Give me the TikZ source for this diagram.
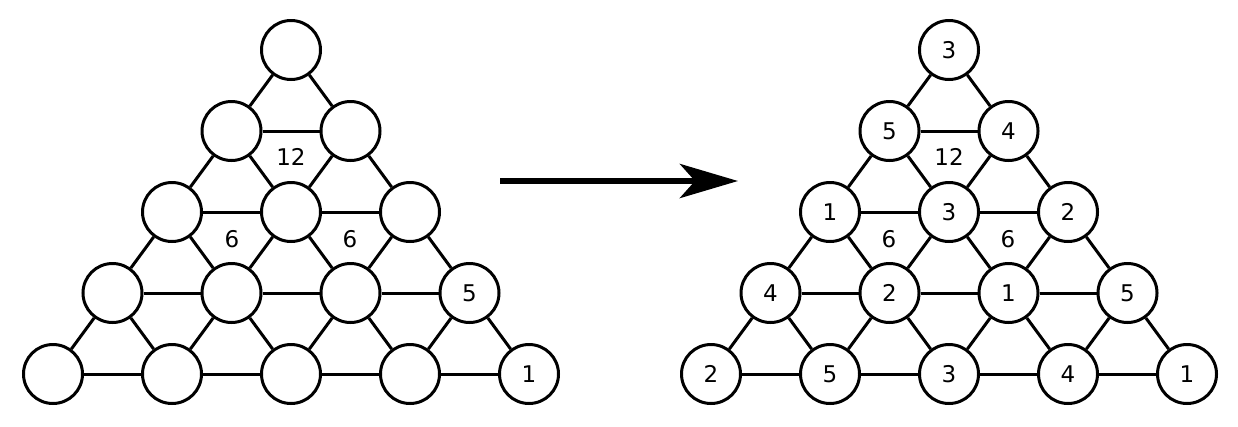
\documentclass[tikz,border=0pt]{standalone}
\usepackage{fontspec}
\setmainfont{DejaVu Sans}
\usetikzlibrary{arrows.meta}
\tikzset{
  ball/.style={circle,draw,line width=3pt,minimum size=59pt,inner sep=0pt,
    font=\fontsize{23}{23}\selectfont},
  link/.style={line width=3pt},
  sumlabel/.style={inner sep=0pt,font=\fontsize{23}{23}\selectfont},
}
\begin{document}
\begin{tikzpicture}[x=1pt,y=1pt]
\useasboundingbox (0,0) rectangle (1238,-426);
% left triangle, empty circles
\foreach \r in {0,...,4}
  \foreach \k in {0,...,\r}
    \node[ball] (L-\r-\k) at ({291+(2*\k-\r)*59.5},{-50-81*\r}) {};
\node[sumlabel] (L-five) at (L-3-3) {5};
\node[sumlabel] (L-one) at (L-4-4) {1};
% right triangle, filled in
\foreach \r/\vals in {0/{3},1/{5,4},2/{1,3,2},3/{4,2,1,5},4/{2,5,3,4,1}}
  \foreach \v [count=\k from 0] in \vals
    \node[ball] (R-\r-\k) at ({949+(2*\k-\r)*59.5},{-50-81*\r}) {\v};
% links
\foreach \s in {L,R}
  \foreach \r in {0,...,3}
    \foreach \k in {0,...,\r} {
      \pgfmathtruncatemacro\n{\r+1}
      \pgfmathtruncatemacro\m{\k+1}
      \draw[link] (\s-\r-\k) -- (\s-\n-\k);
      \draw[link] (\s-\r-\k) -- (\s-\n-\m);
      \draw[link] (\s-\n-\k) -- (\s-\n-\m);
    }
% sums in the triangles
\node[sumlabel] (L-sum-a) at (291,-157) {12};
\node[sumlabel] (L-sum-b) at (232,-239) {6};
\node[sumlabel] (L-sum-c) at (350,-239) {6};
\node[sumlabel] (R-sum-a) at (949,-157) {12};
\node[sumlabel] (R-sum-b) at (889,-239) {6};
\node[sumlabel] (R-sum-c) at (1008,-239) {6};
% arrow
\coordinate (go-from) at (500,-181);
\coordinate (go-to) at (738,-181);
\draw[line width=6.5pt,-{Stealth[length=58pt,width=34pt,inset=15pt]}] (go-from) -- (go-to);
\end{tikzpicture}
\end{document}
